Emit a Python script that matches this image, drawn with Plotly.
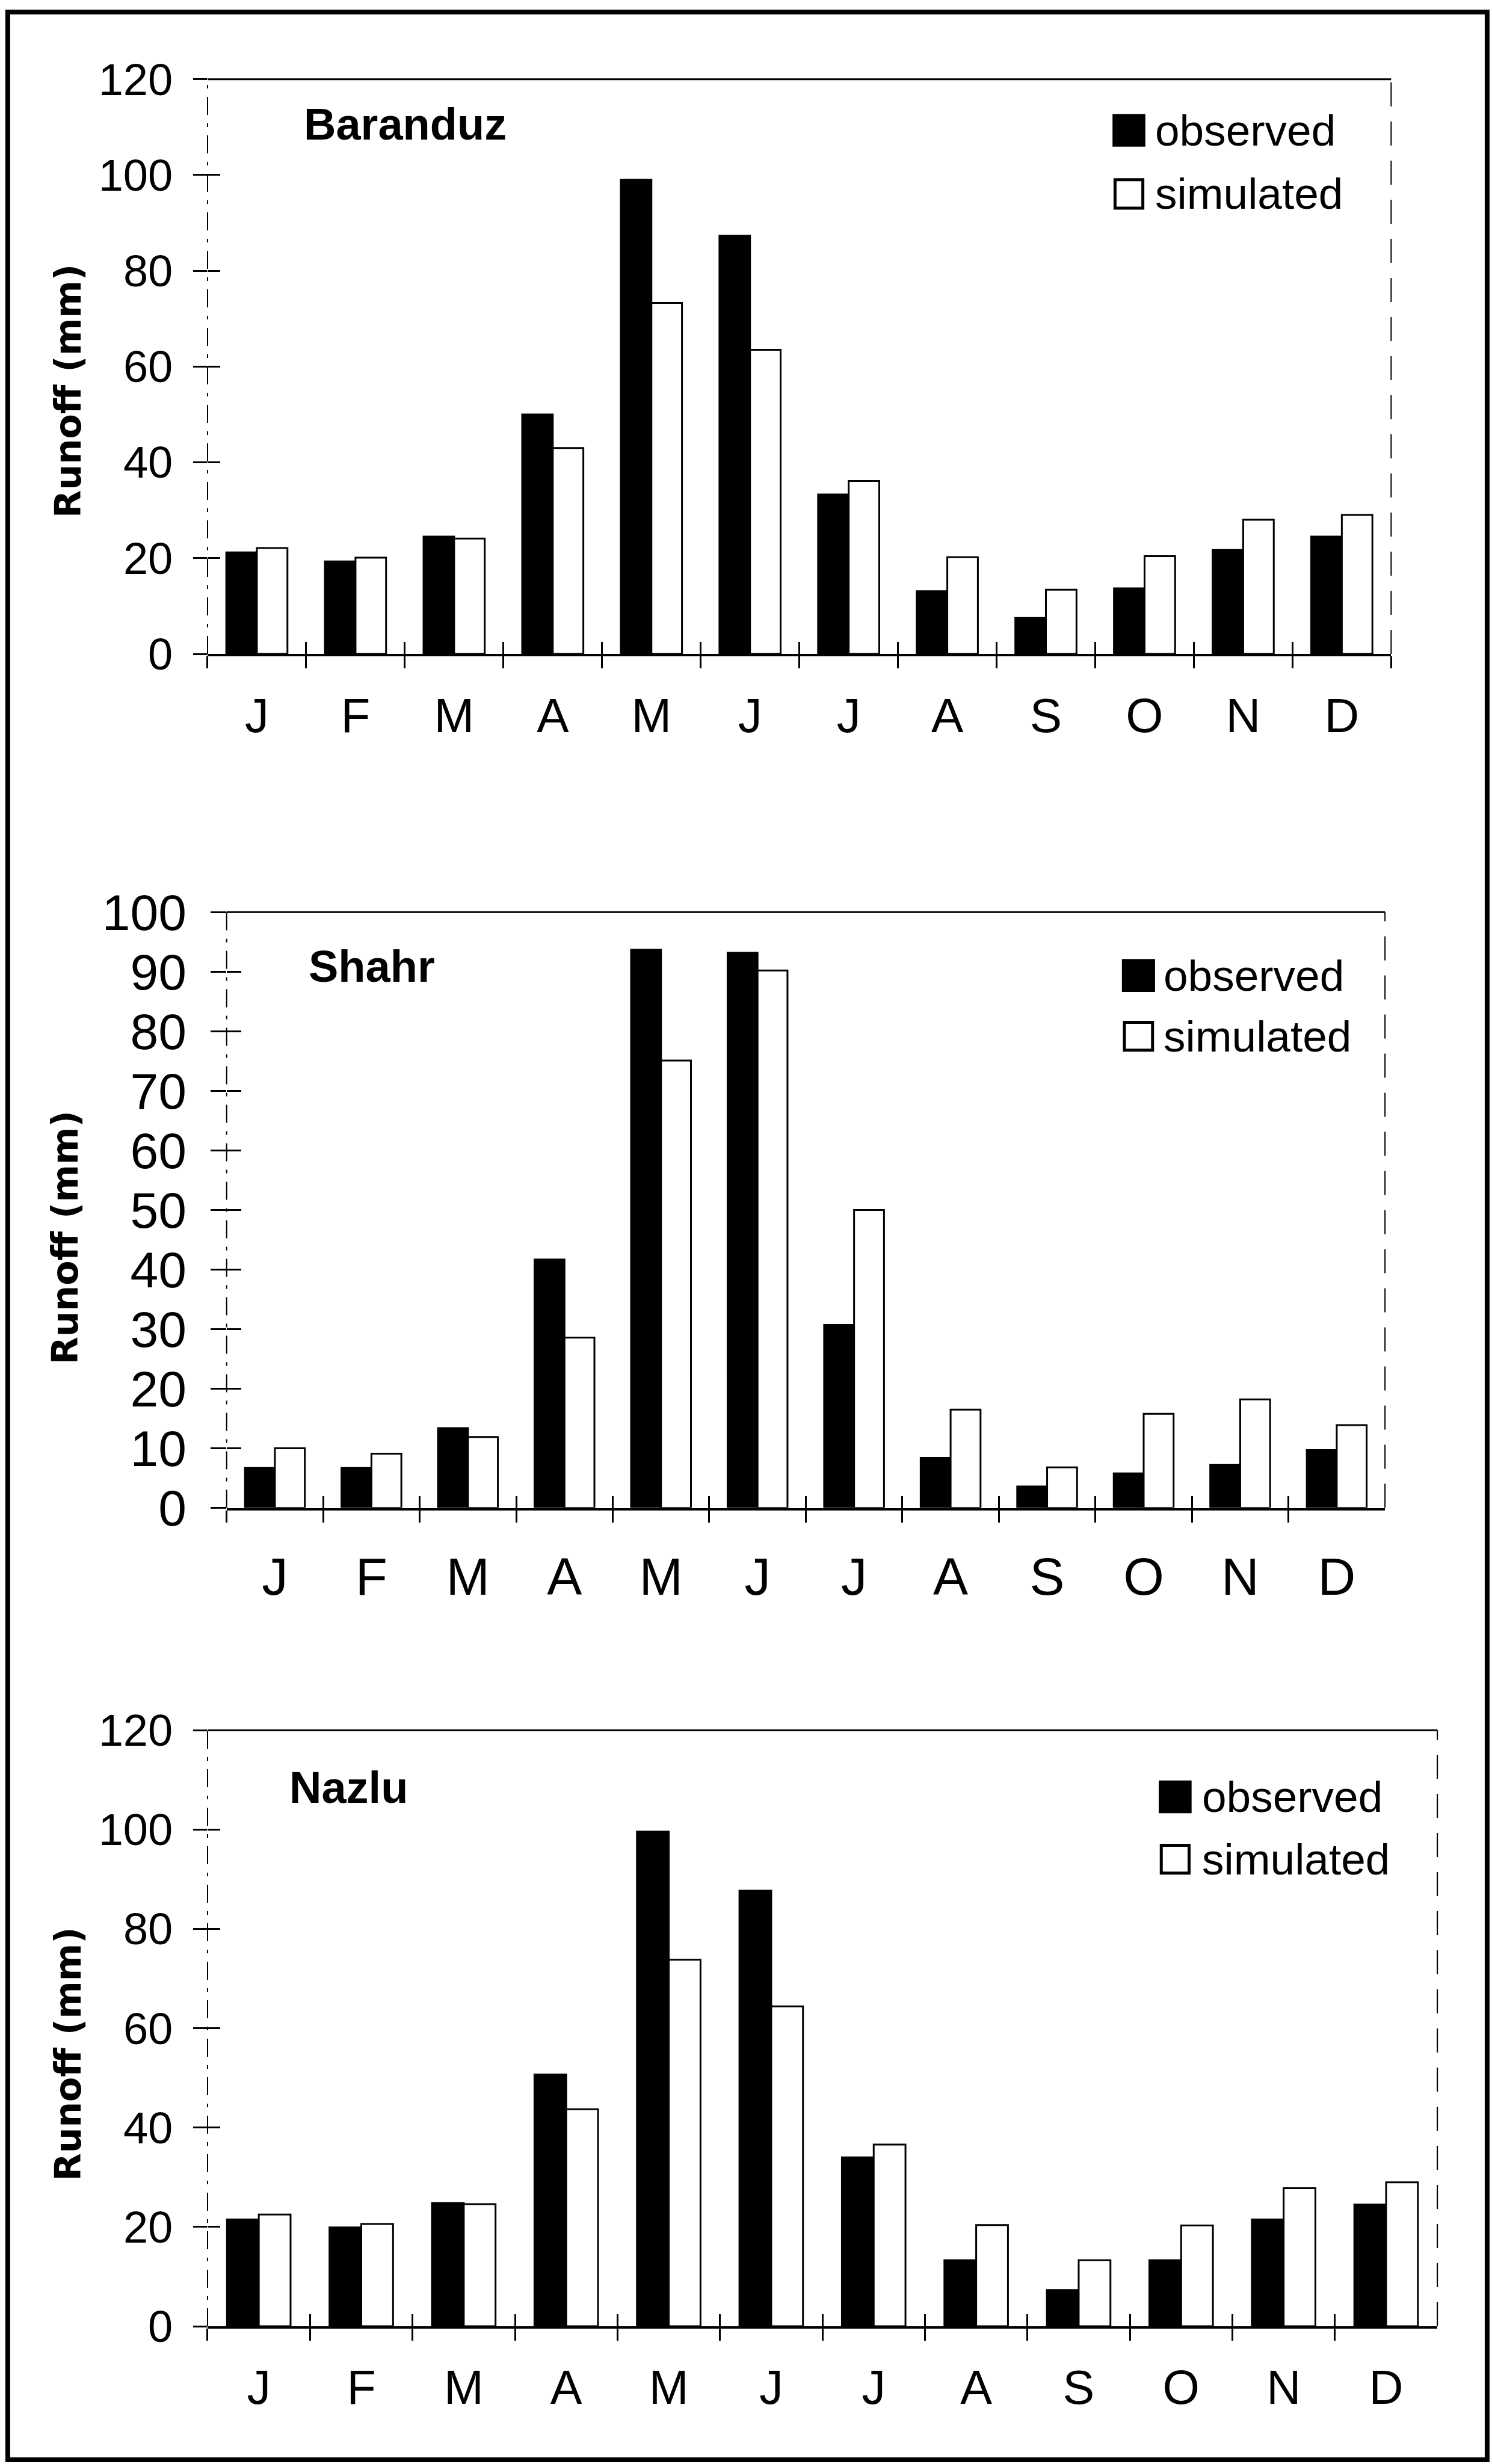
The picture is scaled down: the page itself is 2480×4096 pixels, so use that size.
import plotly.graph_objects as go

# ---------------- data ----------------
months = ["Jan", "Feb", "Mar", "Apr", "May", "Jun", "Jul", "Aug", "Sep", "Oct", "Nov", "Dec"]
month_labels = ["J", "F", "M", "A", "M", "J", "J", "A", "S", "O", "N", "D"]

baranduz_observed = [21.2, 19.3, 24.5, 50.0, 99.0, 87.3, 33.3, 13.1, 7.5, 13.7, 21.7, 24.5]
baranduz_simulated = [22.1, 20.1, 24.1, 43.0, 73.3, 63.5, 36.1, 20.2, 13.4, 20.4, 28.0, 29.0]

shahr_observed = [6.7, 6.7, 13.4, 41.7, 93.7, 93.2, 30.7, 8.4, 3.6, 5.8, 7.2, 9.7]
shahr_simulated = [10.0, 9.1, 11.9, 28.6, 75.1, 90.2, 50.0, 16.5, 6.8, 15.8, 18.2, 13.9]

nazlu_observed = [21.5, 19.9, 24.8, 50.7, 99.6, 87.7, 34.0, 13.3, 7.3, 13.3, 21.5, 24.5]
nazlu_simulated = [22.5, 20.6, 24.6, 43.7, 73.8, 64.4, 36.6, 20.4, 13.3, 20.3, 27.8, 29.0]

station_names = ["Baranduz", "Shahr", "Nazlu"]
series_names = ["observed", "simulated"]
y_title = "Runoff (mm)"
y_max = [120, 100, 120]
y_step = [20, 10, 20]

# ---------------- layout config (positions / styles) ----------------
Z = 1
FONT = "Liberation Sans, Arial, Helvetica, sans-serif"
TFONT = "DejaVu Sans, Verdana, sans-serif"
W, H = 2480 * Z, 4096 * Z
FW, FH = 4615.0, 7623.0  # reference pixel space used for placement


def px(v):
    return v / FW


def py(v):
    return 1 - v / FH


panel_cfg = [
    dict(xdom=(642, 4303), ydom=(245, 2023), tickfs=74, monthfs=80, ytl=23, xtl=20,
         ystand=19, xstand=30, name_xy=(936, 384), title_xy=(210, 1210),
         sw_x=(3444, 3540), sw_obs=(356, 451), sw_sim=(551, 649), txt_x=3570,
         txt_y=(402, 599)),
    dict(xdom=(701, 4284), ydom=(2822, 4665), tickfs=84, monthfs=87, ytl=26, xtl=20,
         ystand=23, xstand=36, name_xy=(950, 2989), title_xy=(200, 3828),
         sw_x=(3473, 3570), sw_obs=(2970, 3066), sw_sim=(3158, 3254), txt_x=3596,
         txt_y=(3018, 3206)),
    dict(xdom=(642, 4446), ydom=(5353, 7197), tickfs=74, monthfs=79, ytl=23, xtl=20,
         ystand=19, xstand=30, name_xy=(892, 5531), title_xy=(210, 6355),
         sw_x=(3587, 3683), sw_obs=(5511, 5607), sw_sim=(5704, 5800), txt_x=3714,
         txt_y=(5559, 5752)),
]

observed_sets = [baranduz_observed, shahr_observed, nazlu_observed]
simulated_sets = [baranduz_simulated, shahr_simulated, nazlu_simulated]

fig = go.Figure()
layout = dict(
    template="none",
    width=W, height=H, margin=dict(l=0, r=0, t=0, b=0, pad=0, autoexpand=False),
    paper_bgcolor="white", plot_bgcolor="rgba(0,0,0,0)",
    showlegend=False, bargap=0.38, bargroupgap=0.0, barmode="group",
)
shapes = []
annotations = []

shapes.append(dict(type="rect", xref="paper", yref="paper",
                   x0=px(24), x1=px(4600), y0=py(7610), y1=py(37),
                   line=dict(color="black", width=8 * Z), fillcolor="rgba(0,0,0,0)"))

for i in range(3):
    c = panel_cfg[i]
    k = i + 1
    xa = "x" if k == 1 else f"x{k}"
    ya = "y" if k == 1 else f"y{k}"
    xkey = "xaxis" if k == 1 else f"xaxis{k}"
    ykey = "yaxis" if k == 1 else f"yaxis{k}"
    ov = k + 3

    fig.add_trace(go.Bar(x=months, y=observed_sets[i], name=series_names[0],
                         xaxis=xa, yaxis=ya,
                         marker=dict(color="black", line=dict(color="black", width=3 * Z))))
    fig.add_trace(go.Bar(x=months, y=simulated_sets[i], name=series_names[1],
                         xaxis=xa, yaxis=ya,
                         marker=dict(color="white", line=dict(color="black", width=3 * Z))))
    # empty helper traces so that the overlay tick axes get drawn
    fig.add_trace(go.Scatter(x=[], y=[], xaxis=f"x{ov}", yaxis=ya, hoverinfo="skip"))
    fig.add_trace(go.Scatter(x=[], y=[], xaxis=xa, yaxis=f"y{ov}", hoverinfo="skip"))

    xd = (px(c["xdom"][0]), px(c["xdom"][1]))
    yd = (py(c["ydom"][1]), py(c["ydom"][0]))

    layout[xkey] = dict(
        domain=list(xd), anchor=ya, type="category", automargin=False,
        categoryorder="array", categoryarray=months,
        tickmode="array", tickvals=months, ticktext=month_labels,
        tickson="boundaries", ticks="outside", ticklen=c["xtl"] * Z, tickwidth=3 * Z,
        tickcolor="black", showline=True, linecolor="black", linewidth=4 * Z,
        showgrid=False, zeroline=False, range=[-0.5, 11.5],
        tickfont=dict(family=FONT, size=c["monthfs"] * Z, color="black"),
        ticklabelstandoff=c["xstand"] * Z,
    )
    layout[ykey] = dict(
        domain=list(yd), anchor=xa, range=[0, y_max[i]], dtick=y_step[i], tick0=0,
        automargin=False,
        ticks="outside", ticklen=c["ytl"] * Z, tickwidth=3 * Z, tickcolor="black",
        showline=False, showgrid=False, zeroline=False,
        tickfont=dict(family=FONT, size=c["tickfs"] * Z, color="black"),
        ticklabelstandoff=c["ystand"] * Z,
    )
    layout[f"yaxis{ov}"] = dict(
        overlaying=ya, anchor=xa, side="left", range=[0, y_max[i]], dtick=y_step[i],
        tick0=0, ticks="inside", ticklen=(c["ytl"] - 2) * Z, tickwidth=3 * Z,
        tickcolor="black", showticklabels=False, showgrid=False, zeroline=False,
        showline=False, automargin=False,
    )
    layout[f"xaxis{ov}"] = dict(
        overlaying=xa, anchor=ya, side="bottom", type="linear", range=[-0.5, 11.5],
        tick0=-0.5, dtick=1, ticks="inside", ticklen=c["xtl"] * Z, tickwidth=3 * Z,
        tickcolor="black", showticklabels=False, showgrid=False, zeroline=False,
        showline=False, automargin=False,
    )

    shapes.append(dict(type="line", xref=f"{xa} domain", yref=f"{ya} domain",
                       x0=0, x1=1, y0=1, y1=1, line=dict(color="black", width=3 * Z)))
    shapes.append(dict(type="line", xref=f"{xa} domain", yref=f"{ya} domain",
                       x0=0, x1=0, y0=0, y1=1,
                       line=dict(color="black", width=2 * Z,
                                 dash=f"{30*Z}px,{14*Z}px,{6*Z}px,{14*Z}px")))
    shapes.append(dict(type="line", xref=f"{xa} domain", yref=f"{ya} domain",
                       x0=1, x1=1, y0=0, y1=1,
                       line=dict(color="black", width=2 * Z, dash=f"{40*Z}px,{25*Z}px")))

    annotations.append(dict(text=f"<b>{station_names[i]}</b>", xref="paper", yref="paper",
                            x=px(c["name_xy"][0]), y=py(c["name_xy"][1]),
                            xanchor="left", yanchor="middle", showarrow=False,
                            font=dict(family=FONT, size=74 * Z, color="black")))
    annotations.append(dict(text=f"<b>{y_title}</b>", xref="paper", yref="paper",
                            x=px(c["title_xy"][0]), y=py(c["title_xy"][1]),
                            xanchor="center", yanchor="middle", textangle=-90,
                            showarrow=False,
                            font=dict(family=TFONT, size=60 * Z, color="black")))
    shapes.append(dict(type="rect", xref="paper", yref="paper",
                       x0=px(c["sw_x"][0]), x1=px(c["sw_x"][1]),
                       y0=py(c["sw_obs"][1]), y1=py(c["sw_obs"][0]),
                       line=dict(color="black", width=3 * Z), fillcolor="black"))
    shapes.append(dict(type="rect", xref="paper", yref="paper",
                       x0=px(c["sw_x"][0] + 5), x1=px(c["sw_x"][1] - 5),
                       y0=py(c["sw_sim"][1] - 5), y1=py(c["sw_sim"][0] + 5),
                       line=dict(color="black", width=5 * Z), fillcolor="white"))
    for j in range(2):
        annotations.append(dict(text=series_names[j], xref="paper", yref="paper",
                                x=px(c["txt_x"]), y=py(c["txt_y"][j]),
                                xanchor="left", yanchor="middle", showarrow=False,
                                font=dict(family=FONT, size=73 * Z, color="black")))

layout["shapes"] = shapes
layout["annotations"] = annotations
fig.update_layout(**layout)
fig.write_html("out.html")
